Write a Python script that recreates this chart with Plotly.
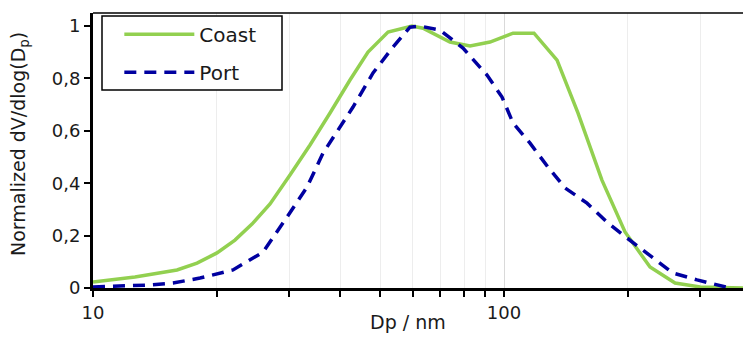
import plotly.graph_objects as go

coast_dp = [10.0, 12.65, 16.01, 17.91, 20.03, 22.15, 24.37, 26.96, 30.15, 33.73, 37.73, 42.20,
            46.68, 52.22, 59.72, 63.51, 73.89, 82.66, 92.46, 105.2, 118.3, 134.6, 151.4, 173.1,
            197.0, 226.6, 260.7, 299.9, 381.4]
coast_val = [0.023, 0.042, 0.069, 0.095, 0.134, 0.183, 0.244, 0.321, 0.431, 0.546, 0.668, 0.794,
             0.901, 0.977, 1.0, 0.992, 0.939, 0.924, 0.939, 0.973, 0.973, 0.870, 0.668, 0.412,
             0.214, 0.080, 0.019, 0.004, 0.0]

port_dp = [10.0, 13.53, 15.65, 18.21, 21.91, 24.10, 25.92, 29.65, 33.17, 36.28, 39.90, 42.92,
           48.01, 53.70, 59.06, 62.45, 69.87, 79.47, 90.92, 98.89, 105.2, 115.7, 127.9, 140.8,
           159.2, 179.1, 199.2, 230.4, 257.7, 294.9, 354.7]
port_val = [0.004, 0.011, 0.019, 0.038, 0.069, 0.107, 0.137, 0.271, 0.385, 0.515, 0.615, 0.691,
            0.821, 0.920, 0.996, 1.0, 0.985, 0.916, 0.813, 0.729, 0.630, 0.553, 0.462, 0.382,
            0.324, 0.248, 0.191, 0.115, 0.057, 0.031, 0.0]

y_ticks = [0, 0.2, 0.4, 0.6, 0.8, 1]
y_labels = ["0", "0,2", "0,4", "0,6", "0,8", "1"]
x_ticks = [10, 100]
x_labels = ["10", "100"]
x_minor = [20, 30, 40, 50, 60, 70, 80, 90, 200, 300]

FONT = "DejaVu Sans"
TXT = "#1a1a1a"

fig = go.Figure()
fig.add_trace(go.Scatter(x=coast_dp, y=coast_val, mode="lines", name="Coast", legendgroup="a",
                         line=dict(color="#92D050", width=3.5)))
fig.add_trace(go.Scatter(x=port_dp, y=port_val, mode="lines", name="Port", legendgroup="b",
                         line=dict(color="#0000A0", width=3.5, dash="12px,8px")))

fig.update_layout(
    width=743, height=341,
    margin=dict(l=93, r=0, t=13, b=53),
    paper_bgcolor="white", plot_bgcolor="white",
    font=dict(family=FONT, size=18, color=TXT),
    showlegend=True,
    legend=dict(x=0.0405, y=0.994, xanchor="left", yanchor="top",
                bgcolor="rgba(0,0,0,0)", borderwidth=0,
                font=dict(family=FONT, size=20, color=TXT),
                itemwidth=70, tracegroupgap=9),
)

fig.update_xaxes(
    type="log", range=[1, 2.5815],
    showline=True, linecolor="black", linewidth=3,
    ticks="outside", ticklen=6, tickwidth=1.5, tickcolor="black",
    tickvals=x_ticks, ticktext=x_labels,
    showgrid=True, gridcolor="#d9d9d9", gridwidth=1.2,
    minor=dict(tickvals=x_minor,
               ticks="outside", ticklen=6, tickwidth=1.5, tickcolor="black",
               showgrid=True, gridcolor="#ededed", gridwidth=1.2),
    zeroline=False,
)
fig.update_yaxes(
    range=[0, 1.05],
    showline=True, linecolor="black", linewidth=3,
    ticks="outside", ticklen=6, tickwidth=1.5, tickcolor="black",
    tickvals=y_ticks, ticktext=y_labels,
    showgrid=False, zeroline=False,
)

# plot-area top border
fig.add_shape(type="line", xref="paper", yref="paper", x0=0, x1=1, y0=1, y1=1,
              line=dict(color="black", width=1.5))
# legend frame
fig.add_shape(type="rect", xref="paper", yref="paper",
              x0=(102 - 93) / 650, x1=(282 - 93) / 650,
              y0=(288 - 90) / 275, y1=(288 - 16) / 275,
              line=dict(color="black", width=1.5), fillcolor="white", layer="above")

fig.add_annotation(text="Dp / nm", xref="paper", yref="paper", x=(408 - 93) / 650,
                   y=(288 - 322) / 275, xanchor="center", yanchor="middle",
                   showarrow=False, font=dict(size=19, family=FONT, color=TXT))
fig.add_annotation(text="Normalized dV/dlog(D<sub>p</sub>)", xref="paper", yref="paper",
                   x=(19 - 93) / 650, y=(288 - 144) / 275, xanchor="center", yanchor="middle",
                   textangle=-90, showarrow=False, font=dict(size=19, family=FONT, color=TXT))

fig.write_html("out.html")
